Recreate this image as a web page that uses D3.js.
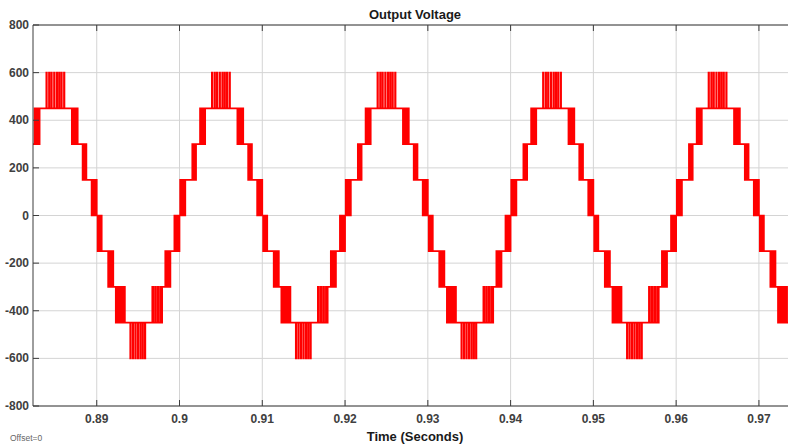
<!DOCTYPE html>
<html>
<head>
<meta charset="utf-8">
<script src="https://cdn.jsdelivr.net/npm/d3@7"></script>
<style>
  body { margin: 0; background: #ffffff; }
  svg { display: block; }
</style>
</head>
<body>
<div id="chart"></div>
<script>
// Output Voltage - multilevel inverter waveform

// data
const cycleStarts = [0.88, 0.90, 0.92, 0.94, 0.96];   // seconds, one period = 20 ms
const xTicks = [0.89, 0.9, 0.91, 0.92, 0.93, 0.94, 0.95, 0.96, 0.97];
const yTicks = [-800, -600, -400, -200, 0, 200, 400, 600, 800];

// one period, ms from cycle start: [start, end, fromLevel, toLevel, pulseCount]
const positiveHalf = [
    [0.0, 0.7, 0, 150, 3],
    [0.7, 1.45, 150, 150, 0],
    [1.45, 2.0, 150, 300, 2],
    [2.0, 2.4, 300, 300, 0],
    [2.4, 3.1, 300, 450, 3],
    [3.1, 3.85, 450, 450, 0],
    [3.85, 6.15, 450, 600, 0],
    [6.15, 6.9, 450, 450, 0],
    [6.9, 7.7, 450, 300, 3],
    [7.7, 8.2, 300, 300, 0],
    [8.2, 8.75, 300, 150, 2],
    [8.75, 9.3, 150, 150, 0],
    [9.3, 10.0, 150, 0, 3]
];
const negativeHalf = [
    [10.0, 10.6, 0, -150, 2],
    [10.6, 11.3, -150, -150, 0],
    [11.3, 12.0, -150, -300, 3],
    [12.0, 12.2, -300, -300, 0],
    [12.2, 13.4, -300, -450, 4],
    [13.4, 14.0, -450, -450, 0],
    [14.0, 15.9, -450, -600, 0],
    [15.9, 16.6, -450, -450, 0],
    [16.6, 17.9, -450, -300, 4],
    [17.9, 18.2, -300, -300, 0],
    [18.2, 18.9, -300, -150, 3],
    [18.9, 19.3, -150, -150, 0],
    [19.3, 20.0, -150, 0, 3]
];
// narrow spikes at the crest and the trough (ms from cycle start)
const crestSpikes = [3.94, 4.26, 4.54, 4.87, 5.19, 5.47, 5.75, 6.07];
const troughSpikes = [14.08, 14.38, 14.68, 14.98, 15.28, 15.56, 15.84];

(function () {
    const W = 788, H = 445;
    const plot = { left: 33, right: 797, top: 25, bottom: 406 };

    const svg = d3.select("#chart").append("svg")
        .attr("width", W)
        .attr("height", H);

    const x = d3.scaleLinear()
        .domain([0.8823, 0.9746])
        .range([plot.left, plot.right]);

    const y = d3.scaleLinear()
        .domain([-800, 800])
        .range([plot.bottom, plot.top]);

    const fontFamily = "'Liberation Sans Narrow', 'Arial Narrow', 'Liberation Sans', Arial, sans-serif";

    // grid
    const grid = svg.append("g").attr("class", "grid");
    grid.selectAll(".vgrid")
        .data(xTicks)
        .enter()
        .append("line")
        .attr("x1", d => x(d)).attr("x2", d => x(d))
        .attr("y1", plot.top).attr("y2", plot.bottom)
        .attr("stroke", "#d4d4d4")
        .attr("stroke-width", 1);
    grid.selectAll(".hgrid")
        .data(yTicks)
        .enter()
        .append("line")
        .attr("x1", plot.left).attr("x2", plot.right)
        .attr("y1", d => y(d)).attr("y2", d => y(d))
        .attr("stroke", "#d4d4d4")
        .attr("stroke-width", 1);

    // build the waveform path
    function addSegments(points, start, segs, spikes) {
        segs.forEach(s => {
            const [t0, t1, from, to, n] = s;
            const a = start + t0 / 1000, b = start + t1 / 1000;
            points.push([a, from]);
            if (from !== to && n === 0) {
                spikes.forEach(c => {
                    const cc = start + c / 1000;
                    points.push([cc - 0.00003, from], [cc - 0.00003, to], [cc + 0.00003, to], [cc + 0.00003, from]);
                });
            } else if (n > 0) {
                const step = (b - a) / n;
                for (let i = 0; i < n; i++) {
                    const c = a + (i + 0.5) * step;
                    points.push([c - step * 0.16, from], [c - step * 0.16, to], [c + step * 0.16, to], [c + step * 0.16, from]);
                }
            }
            points.push([b, from]);
        });
    }

    const points = [];
    cycleStarts.forEach(c => {
        addSegments(points, c, positiveHalf, crestSpikes);
        addSegments(points, c, negativeHalf, troughSpikes);
    });

    svg.append("clipPath")
        .attr("id", "plot-clip")
        .append("rect")
        .attr("x", plot.left)
        .attr("y", plot.top)
        .attr("width", plot.right - plot.left)
        .attr("height", plot.bottom - plot.top);

    const line = d3.line()
        .x(d => x(d[0]))
        .y(d => y(d[1]));

    svg.append("path")
        .datum(points)
        .attr("clip-path", "url(#plot-clip)")
        .attr("d", line)
        .attr("fill", "none")
        .attr("stroke", "#ff0000")
        .attr("stroke-width", 1.7)
        .attr("stroke-linejoin", "miter");

    // box and inward ticks
    const axisColor = "#3c3c3c";
    svg.append("path")
        .attr("d", `M${plot.right},${plot.top}H${plot.left}V${plot.bottom}H${plot.right}`)
        .attr("fill", "none")
        .attr("stroke", axisColor)
        .attr("stroke-width", 1);

    const tickLen = 6;
    svg.selectAll(".xtick-b")
        .data(xTicks)
        .enter()
        .append("line")
        .attr("x1", d => x(d)).attr("x2", d => x(d))
        .attr("y1", plot.bottom).attr("y2", plot.bottom - tickLen)
        .attr("stroke", axisColor);
    svg.selectAll(".xtick-t")
        .data(xTicks)
        .enter()
        .append("line")
        .attr("x1", d => x(d)).attr("x2", d => x(d))
        .attr("y1", plot.top).attr("y2", plot.top + tickLen)
        .attr("stroke", axisColor);
    svg.selectAll(".ytick")
        .data(yTicks)
        .enter()
        .append("line")
        .attr("x1", plot.left).attr("x2", plot.left + tickLen)
        .attr("y1", d => y(d)).attr("y2", d => y(d))
        .attr("stroke", axisColor);

    // tick labels
    svg.selectAll(".xlabel")
        .data(xTicks)
        .enter()
        .append("text")
        .attr("x", d => x(d))
        .attr("y", 423)
        .attr("text-anchor", "middle")
        .attr("font-family", fontFamily)
        .attr("font-size", 12)
        .attr("font-weight", 700)
        .attr("fill", "#404040")
        .text(d => d3.format("")(d));

    svg.selectAll(".ylabel")
        .data(yTicks)
        .enter()
        .append("text")
        .attr("x", 29)
        .attr("y", d => y(d) + 4)
        .attr("text-anchor", "end")
        .attr("font-family", fontFamily)
        .attr("font-size", 12)
        .attr("font-weight", 700)
        .attr("fill", "#404040")
        .text(d => d);

    // title and axis label
    svg.append("text")
        .attr("x", 415)
        .attr("y", 19)
        .attr("text-anchor", "middle")
        .attr("font-family", fontFamily)
        .attr("font-size", 13)
        .attr("font-weight", 700)
        .attr("fill", "#1a1a1a")
        .text("Output Voltage");

    svg.append("text")
        .attr("x", 415)
        .attr("y", 441)
        .attr("text-anchor", "middle")
        .attr("font-family", fontFamily)
        .attr("font-size", 13)
        .attr("font-weight", 700)
        .attr("fill", "#1a1a1a")
        .text("Time (Seconds)");

    svg.append("text")
        .attr("x", 10)
        .attr("y", 441)
        .attr("font-family", fontFamily)
        .attr("font-size", 8.5)
        .attr("fill", "#666666")
        .text("Offset=0");
})();
</script>
</body>
</html>
